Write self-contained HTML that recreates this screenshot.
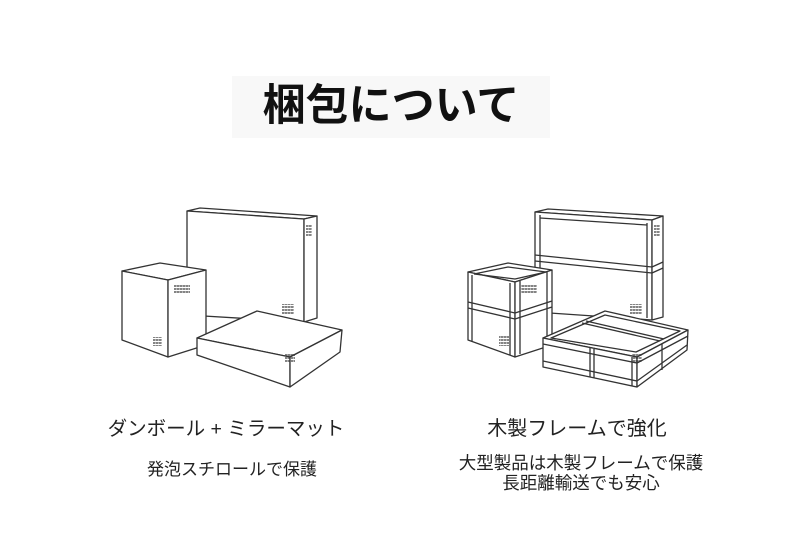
<!DOCTYPE html>
<html><head><meta charset="utf-8"><style>
html,body{margin:0;padding:0;background:#fff;}
body{width:790px;height:557px;position:relative;overflow:hidden;font-family:"Liberation Sans","Noto Sans CJK JP",sans-serif;}
.t{position:absolute;white-space:nowrap;color:#222;text-align:center;}
</style></head><body>
<div style="position:absolute;left:232px;top:76px;width:318px;height:62px;background:#f8f8f8"></div>
<div class="t" style="left:232px;top:80px;width:318px;font-size:43px;font-weight:bold;color:#111;line-height:52px">梱包について</div>
<svg width="790" height="557" style="position:absolute;left:0;top:0" fill="#fff" stroke="#333" stroke-width="1.3" stroke-linejoin="round">
<defs><pattern id="d" width="3" height="3" patternUnits="userSpaceOnUse"><rect width="2" height="1.4" fill="#444"/></pattern></defs>
<!-- LEFT -->
<polygon points="187,211 200,208 317,216 304,219"/>
<polygon points="187,211 304,219 304,322 187,315"/>
<polygon points="304,219 317,216 317,318 304,322"/>
<polygon points="122,271 160,263 206,270 168,280"/>
<polygon points="122,271 168,280 168,357 122,340"/>
<polygon points="168,280 206,270 206,345 168,357"/>
<polygon points="197,338 257,311 342,330 290,357"/>
<polygon points="197,338 290,357 290,387 197,355"/>
<polygon points="290,357 342,330 340,352 290,387"/>
<g fill="url(#d)" stroke="none" opacity=".6">
<rect x="306" y="224" width="6" height="12"/><rect x="174" y="284" width="16" height="10"/><rect x="153" y="337" width="9" height="9"/><rect x="282" y="304" width="12" height="10"/><rect x="285" y="353" width="10" height="9"/>
</g>
<!-- RIGHT -->
<g>
<polygon points="535,212 548,209 663,216 652,220"/>
<polygon points="535,212 652,220 652,320 535,312"/>
<polygon points="652,220 663,216 663,317 652,320"/>
<polyline fill="none" points="540,215 540,311"/><polyline fill="none" points="647,223 647,318"/>
<polyline fill="none" points="535,255 652,267 663,262"/><polyline fill="none" points="535,261 652,273 663,268"/>
<polyline fill="none" points="540,218 647,225"/>
<polygon points="468,272 508,263 552,270 515,282"/>
<polygon points="468,272 515,282 515,357 468,340"/>
<polygon points="515,282 552,270 552,345 515,357"/>
<polyline fill="none" points="472,275 472,341"/><polyline fill="none" points="510,283 510,355"/><polyline fill="none" points="520,281 520,354"/><polyline fill="none" points="547,272 547,347"/>
<polyline fill="none" points="468,302 515,313 552,301"/><polyline fill="none" points="468,308 515,319 552,307"/>
<polyline fill="none" points="474,274 508,267 546,272 515,279 474,274"/>
<polygon points="543,338 605,311 688,330 637,357"/>
<polygon points="551,338 605,315 680,331 636,352"/>
<polyline fill="none" points="582,323 660,341"/><polyline fill="none" points="586,321 664,339"/>
<polygon points="543,338 637,357 637,387 543,367"/>
<polygon points="637,357 688,330 687,350 637,387"/>
<polyline fill="none" points="543,344 637,363 688,336"/><polyline fill="none" points="543,361 637,381 687,345"/>
<polyline fill="none" points="590,348 590,377"/><polyline fill="none" points="594,349 594,378"/><polyline fill="none" points="632,357 632,386"/><polyline fill="none" points="662,344 662,370"/>
<g fill="url(#d)" stroke="none" opacity=".6"><rect x="654" y="224" width="6" height="12"/><rect x="521" y="284" width="16" height="10"/><rect x="499" y="336" width="10" height="10"/><rect x="630" y="304" width="12" height="10"/><rect x="632" y="353" width="10" height="9"/></g>
</g>
</svg>
<div class="t" style="left:98px;top:416px;width:256px;font-size:19.5px;line-height:26px">ダンボール + ミラーマット</div>
<div class="t" style="left:130px;top:458px;width:204px;font-size:17px;line-height:24px">発泡スチロールで保護</div>
<div class="t" style="left:468px;top:416px;width:218px;font-size:20px;line-height:26px">木製フレームで強化</div>
<div class="t" style="left:440px;top:453px;width:282px;font-size:17.5px;line-height:20px">大型製品は木製フレームで保護<br>長距離輸送でも安心</div>
</body></html>
